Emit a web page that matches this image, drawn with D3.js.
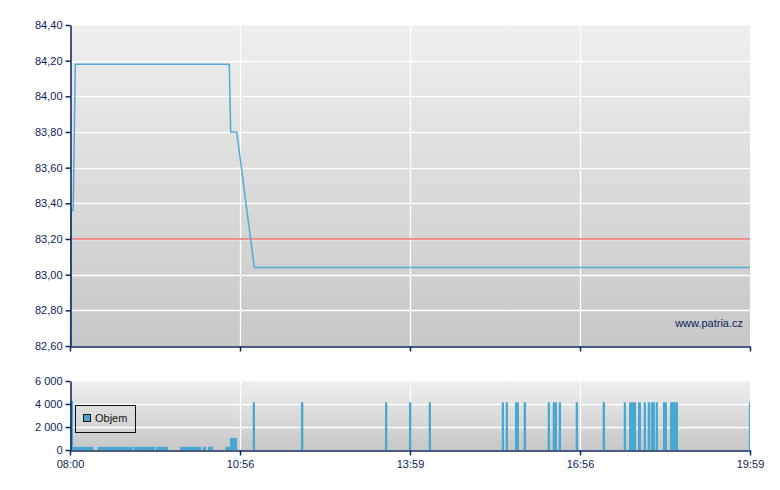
<!DOCTYPE html>
<html>
<head>
<meta charset="utf-8">
<script src="https://cdn.jsdelivr.net/npm/d3@7/dist/d3.min.js"></script>
<style>
  html, body { margin: 0; padding: 0; background: #fff; }
  svg { display: block; font-family: "Liberation Sans", Arial, sans-serif; }
</style>
</head>
<body>
<svg id="chart" width="780" height="490"></svg>
<script>
// ---- DATA (minutes after 08:00) ----
const priceTimes  = [0.6, 0.9, 3.4, 5.6, 168.4, 169.9, 176.3, 194.9, 719];
const priceValues = [82.60, 83.36, 83.36, 84.18, 84.18, 83.80, 83.80, 83.04, 83.04];
const prevClose = 83.20;

const volFrom  = [0, 3.2, 29.3, 67.4, 90.9, 116.3, 140.3, 145.9, 164.2, 169.2,
                  193.2, 244.2, 333.1, 358.4, 379.3, 456.5, 460.7, 470.5, 479.7, 505.1,
                  510.4, 516.7, 534.7, 563.2, 585.5, 591.1, 600.6, 606.6, 610.8, 614.0,
                  619.3, 627.0, 634.4, 717.8];
const volTo    = [3.2, 24.6, 66.3, 89.6, 103.3, 138.5, 143.8, 151.2, 169.2, 176.6,
                  195.6, 246.7, 335.5, 360.9, 381.7, 458.9, 463.1, 474.7, 482.2, 507.5,
                  514.9, 519.2, 537.1, 565.7, 587.9, 598.5, 603.7, 609.0, 613.3, 618.5,
                  621.7, 631.2, 642.9, 719];
const volValue = [4250, 280, 280, 280, 280, 280, 280, 280, 280, 1050,
                  4150, 4150, 4150, 4150, 4150, 4150, 4150, 4150, 4150, 4150,
                  4150, 4150, 4150, 4150, 4150, 4150, 4150, 4150, 4150, 4150,
                  4150, 4150, 4150, 4150];

const priceTicks = [82.6, 82.8, 83.0, 83.2, 83.4, 83.6, 83.8, 84.0, 84.2, 84.4];
const volTicks = [0, 2000, 4000, 6000];
const timeLabels = ["08:00", "10:56", "13:59", "16:56", "19:59"];
const dayLength = 719;

// ---- LAYOUT ----
const svg = d3.select("#chart");
const axisColor = "#0b2458";
const barColor = "#48a8d2";
const L = 70, R = 750;
const top1 = 25, bot1 = 346;
const top2 = 381, bot2 = 450;

const x = d3.scaleLinear().domain([0, dayLength]).range([L, R]);
const yP = d3.scaleLinear().domain([82.6, 84.4]).range([bot1, top1]);
const yV = d3.scaleLinear().domain([0, 6000]).range([bot2, top2]);
const timeTickPos = timeLabels.map((_, i) => dayLength * i / (timeLabels.length - 1));

const defs = svg.append("defs");
const grad = defs.append("linearGradient").attr("id", "bg").attr("x1", 0).attr("y1", 0).attr("x2", 0).attr("y2", 1);
grad.append("stop").attr("offset", "0%").attr("stop-color", "#efefef");
grad.append("stop").attr("offset", "100%").attr("stop-color", "#c7c7c7");

function panel(yScale, ticks, yTop, yBot, fmt, showXLabels) {
  const g = svg.append("g");
  g.append("rect").attr("x", L).attr("y", yTop).attr("width", R - L).attr("height", yBot - yTop)
    .attr("fill", "url(#bg)");
  g.append("line").attr("x1", L).attr("x2", R).attr("y1", yTop + 0.5).attr("y2", yTop + 0.5)
    .attr("stroke", "#f6f6f6").attr("stroke-width", 1);
  // horizontal grid
  g.selectAll(".hg").data(ticks.slice(1, -1)).join("line")
    .attr("x1", L).attr("x2", R)
    .attr("y1", d => Math.round(yScale(d)) + 0.5).attr("y2", d => Math.round(yScale(d)) + 0.5)
    .attr("stroke", "#ffffff").attr("stroke-width", 1.3);
  // vertical grid
  g.selectAll(".vg").data(timeTickPos.slice(1, -1)).join("line")
    .attr("x1", d => Math.round(x(d)) + 0.5).attr("x2", d => Math.round(x(d)) + 0.5)
    .attr("y1", yTop).attr("y2", yBot)
    .attr("stroke", "#ffffff").attr("stroke-width", 1.3);
  return g;
}

function axes(yScale, ticks, yTop, yBot, fmt, showXLabels) {
  const ya = d3.axisLeft(yScale).tickValues(ticks).tickFormat(fmt).tickSize(5).tickSizeOuter(0);
  const yg = svg.append("g").attr("transform", `translate(${L + 0.5},0)`).call(ya);
  yg.select(".domain").attr("stroke", axisColor).attr("stroke-width", 1.5);
  yg.selectAll(".tick line").attr("stroke", axisColor).attr("stroke-width", 1.5);
  yg.selectAll(".tick text").attr("fill", axisColor).attr("font-size", 11)
    .attr("font-family", "'Liberation Sans', Arial, sans-serif").attr("x", -8);

  const xa = d3.axisBottom(x).tickValues(timeTickPos)
    .tickFormat((d, i) => showXLabels ? timeLabels[i] : "").tickSize(5).tickSizeOuter(0);
  const xg = svg.append("g").attr("transform", `translate(0,${yBot + 0.5})`).call(xa);
  xg.select(".domain").attr("stroke", axisColor).attr("stroke-width", 1.5);
  xg.selectAll(".tick line").attr("stroke", axisColor).attr("stroke-width", 1.5);
  xg.selectAll(".tick text").attr("fill", axisColor).attr("font-size", 11)
    .attr("font-family", "'Liberation Sans', Arial, sans-serif").attr("dy", "0.9em");
}

const fmtPrice = d => d.toFixed(2).replace(".", ",");
const fmtVol = d => d3.format(",")(d).replace(/,/g, " ");

// ---- PRICE PANEL ----
panel(yP, priceTicks, top1, bot1);
svg.append("line").attr("x1", L).attr("x2", R)
  .attr("y1", yP(prevClose)).attr("y2", yP(prevClose))
  .attr("stroke", "#ec5a5a").attr("stroke-width", 1.6).attr("opacity", 0.85);

const priceData = priceTimes.map((t, i) => ({ t, v: priceValues[i] }));
svg.append("path").datum(priceData)
  .attr("d", d3.line().x(d => x(d.t)).y(d => yP(d.v)))
  .attr("fill", "none").attr("stroke", "#4aa6d6").attr("stroke-width", 1.5).attr("opacity", 0.95);

svg.append("text").attr("x", 743).attr("y", 323).attr("dy", "0.35em")
  .attr("text-anchor", "end").attr("font-size", 11).attr("fill", axisColor)
  .text("www.patria.cz");

axes(yP, priceTicks, top1, bot1, fmtPrice, false);

// ---- VOLUME PANEL ----
panel(yV, volTicks, top2, bot2);
const volData = volFrom.map((f, i) => ({ f, t: volTo[i], v: volValue[i] }));
svg.append("g").selectAll("rect").data(volData).join("rect")
  .attr("x", d => x(d.f)).attr("width", d => Math.max(1, x(d.t) - x(d.f)))
  .attr("y", d => yV(d.v)).attr("height", d => yV(0) - yV(d.v))
  .attr("fill", barColor);

// legend
const lg = svg.append("g");
lg.append("rect").attr("x", 75.5).attr("y", 405.5).attr("width", 60).attr("height", 27)
  .attr("fill", "none").attr("stroke", "#111").attr("stroke-width", 1);
lg.append("rect").attr("x", 83.5).attr("y", 414.5).attr("width", 7).attr("height", 7)
  .attr("fill", barColor).attr("stroke", "#111").attr("stroke-width", 1);
lg.append("text").attr("x", 95).attr("y", 418.5).attr("dy", "0.35em")
  .attr("font-size", 11).attr("fill", "#111").text("Objem");

axes(yV, volTicks, top2, bot2, fmtVol, true);
</script>
</body>
</html>
